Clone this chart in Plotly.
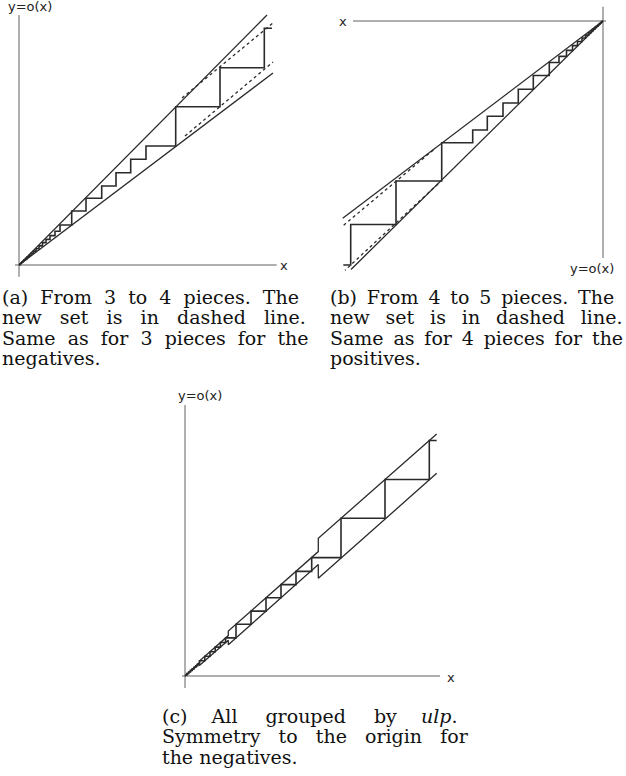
import plotly.graph_objects as go

W, H = 626, 776

# ---- panel (a): from 3 to 4 pieces (positive side), units = px from origin
a_upper_x = [0, 248]
a_upper_y = [0, 250]
a_lower_x = [0, 254]
a_lower_y = [0, 192]
a_dash_up_x = [163, 254]
a_dash_up_y = [167, 242]
a_dash_lo_x = [166, 254]
a_dash_lo_y = [129, 203]
a_step_x = [0, 1, 2, 3, 4, 5, 6.5, 8, 10, 12, 14.5, 17, 20, 23.5, 27, 31, 36, 41,
            52.7, 67, 82.7, 97, 111.7, 127, 156.7, 201, 245.3, 253]
a_step_y = [0.4, 1.3, 2.2, 3.1, 4.0, 5.1, 6.4, 7.9, 9.7, 11.7, 13.9, 16.3, 19.1, 22.4,
            25.6, 29.4, 33.8, 40, 54, 66.7, 79, 92.3, 105.7, 119, 158.3, 197.3, 236.7, 236.7]

# ---- panel (b): from 4 to 5 pieces (negative side)
b_upper_x = [0, -260.3]
b_upper_y = [0, -197.3]
b_lower_x = [0, -252]
b_lower_y = [0, -248.5]
b_dash_up_x = [-169.7, -260.3]
b_dash_up_y = [-129, -205]
b_dash_lo_x = [-165, -258]
b_dash_lo_y = [-162.9, -249.3]
b_step_x = [-259.7, -252.3, -207, -161.3, -130.3, -115.7, -100, -84.7, -69.7, -53.7, -44,
            -36.5, -30.5, -25.5, -21, -17.5, -14.5, -12, -10, -8, -6.5, -5, -4, -3, -2, -1, 0]
b_step_y = [-244, -203.5, -160, -121.7, -109, -95.3, -82, -68.3, -54.5, -41.5, -35.4,
            -29.4, -24.6, -20.5, -17, -14.1, -11.7, -9.7, -7.9, -6.4, -5.1, -4, -3.1, -2.2,
            -1.3, -0.4, -0.4]

# ---- panel (c): all grouped by ulp
c_band_x = [0, 14.4, 14.4, 43.3, 43.3, 133.3, 133.3, 251.7]
c_upper_y = [0, 13.5, 15.0, 40.4, 45.0, 124.4, 137.7, 242.0]
c_lower_y = [0, 11.9, 10.4, 35.8, 31.3, 111.5, 97.7, 202.7]
c_step_x = [0, 1.8, 3.6, 5.4, 7.2, 9, 10.8, 12.6, 14.6, 19.8, 25, 30.2, 35.4, 40.6,
            51, 66, 81, 96, 111, 126.7, 156, 200, 244.3, 251.7]
c_step_y = [0.8, 2.4, 4.0, 5.6, 7.1, 8.7, 10.3, 11.9, 15.2, 19.7, 24.3, 28.9, 33.5, 38.1,
            51.7, 64.9, 78.2, 91.4, 104.6, 118.4, 157.7, 196.5, 235.5, 235.5]

NB = "\u00a0"
TH = "\u2009"


def spread(words, pad):
    # justify a caption line by padding each gap
    out = words[0]
    for w, p in zip(words[1:], pad):
        out += " " + p + w
    return out


cap_a = [spread("(a) From 3 to 4 pieces. The".split(), [NB] * 6),
         spread("new set is in dashed line.".split(), [NB * 2] * 5),
         spread("Same as for 3 pieces for the".split(), [NB] * 6),
         "negatives."]
cap_b = [spread("(b) From 4 to 5 pieces. The".split(), [TH] * 6),
         spread("new set is in dashed line.".split(), [NB + TH] * 5),
         spread("Same as for 4 pieces for the".split(), [TH] * 6),
         "positives."]
cap_c = [spread(["(c)", "All", "grouped", "by", "<i>ulp</i>."],
                [NB * 3, NB * 3 + TH, NB * 3 + TH, NB * 3]),
         spread("Symmetry to the origin for".split(), [NB * 2] * 4),
         "the negatives."]

LINE = "#2a2a2a"
AXIS = "#606060"

# pixel boxes: left, top, right, bottom, origin x, origin y
panels = {
    "a": (0, 0, 313, 290, 19, 265),
    "b": (313, 0, 626, 290, 603, 21),
    "c": (160, 380, 470, 700, 185, 676),
}

fig = go.Figure()
layout = dict(width=W, height=H, margin=dict(l=0, r=0, t=0, b=0),
              plot_bgcolor="white", paper_bgcolor="white", showlegend=False)

for i, (key, (l, t, r, b, ox, oy)) in enumerate(panels.items(), start=1):
    sfx = "" if i == 1 else str(i)
    layout["xaxis" + sfx] = dict(domain=[l / W, r / W], range=[l - ox, r - ox],
                                 visible=False, anchor="y" + sfx)
    layout["yaxis" + sfx] = dict(domain=[1 - b / H, 1 - t / H], range=[oy - b, oy - t],
                                 visible=False, anchor="x" + sfx)

fig.update_layout(**layout)


def seg(x, y, ax, dash=None, width=1.3, shape="linear", color=LINE):
    fig.add_trace(go.Scatter(x=x, y=y, mode="lines", xaxis="x" + ax, yaxis="y" + ax,
                             line=dict(color=color, width=width, dash=dash, shape=shape),
                             hoverinfo="skip"))


# axes (drawn as thin lines crossing at the origin)
axes = {"": ([-4, 257.7], [-11.7, 250]), "2": ([-250, 3], [14.3, -237]),
        "3": ([-3, 255], [-12, 271])}
for ax, (xs, ys) in axes.items():
    seg(xs, [0, 0], ax, width=1, color=AXIS)
    seg([0, 0], ys, ax, width=1, color=AXIS)

# (a)
seg(a_upper_x, a_upper_y, "")
seg(a_lower_x, a_lower_y, "")
seg(a_dash_up_x, a_dash_up_y, "", dash="3px,3px")
seg(a_dash_lo_x, a_dash_lo_y, "", dash="3px,3px")
seg(a_step_x, a_step_y, "", width=1.6, shape="hv")
# (b)
seg(b_upper_x, b_upper_y, "2")
seg(b_lower_x, b_lower_y, "2")
seg(b_dash_up_x, b_dash_up_y, "2", dash="3px,3px")
seg(b_dash_lo_x, b_dash_lo_y, "2", dash="3px,3px")
seg(b_step_x, b_step_y, "2", width=1.6, shape="hv")
# (c)
seg(c_band_x, c_upper_y, "3")
seg(c_band_x, c_lower_y, "3")
seg(c_step_x, c_step_y, "3", width=1.6, shape="hv")

sans = dict(family="DejaVu Sans", size=13, color="#222")
serif = dict(family="DejaVu Serif", size=19, color="#111")


def txt(px, py, s, font, xanchor="center"):
    fig.add_annotation(x=px / W, y=1 - py / H, xref="paper", yref="paper", text=s,
                       showarrow=False, font=font, xanchor=xanchor, yanchor="middle")


txt(30, 7, "y=o(x)", sans)
txt(284, 265, "x", sans)
txt(343, 21, "x", sans)
txt(592, 268, "y=o(x)", sans)
txt(200, 395, "y=o(x)", sans)
txt(451, 677, "x", sans)

for k, s in enumerate(cap_a):
    txt(0, 297 + 20.3 * k, s, serif, "left")
for k, s in enumerate(cap_b):
    txt(328, 297 + 20.3 * k, s, serif, "left")
for k, s in enumerate(cap_c):
    txt(160, 716 + 20.3 * k, s, serif, "left")

fig.write_html("out.html", config={"displayModeBar": False},
               post_script="document.body.style.margin='0';")
